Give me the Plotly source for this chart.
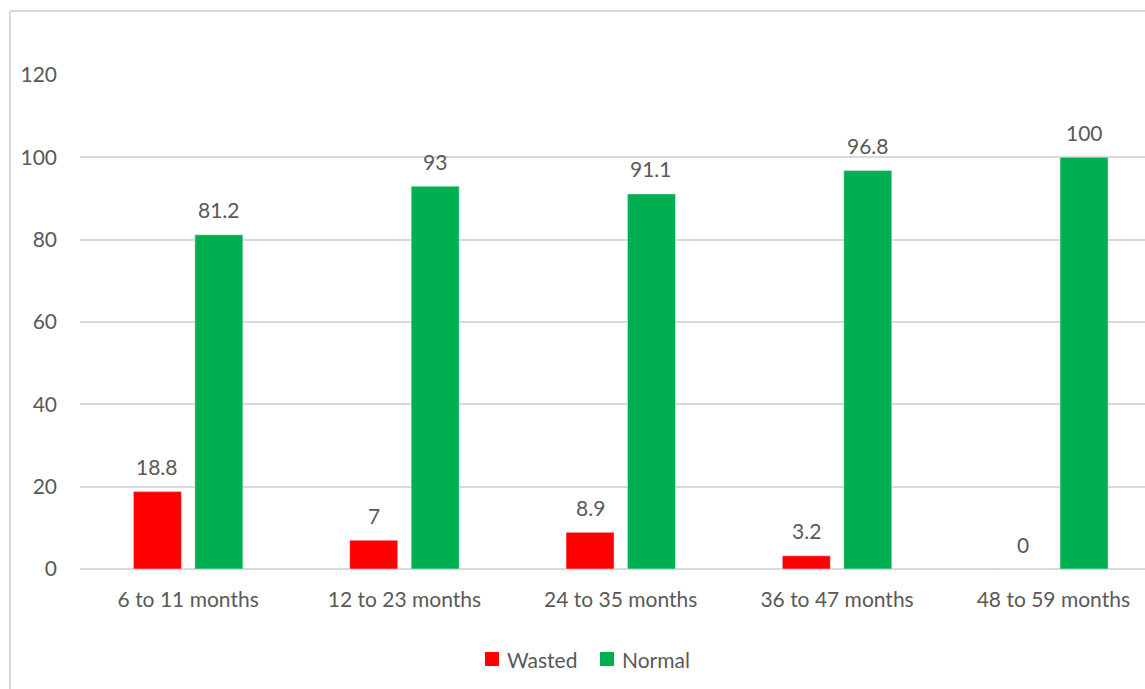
import plotly.graph_objects as go

categories = ["6 to 11 months", "12 to 23 months", "24 to 35 months", "36 to 47 months", "48 to 59 months"]
wasted = [18.8, 7, 8.9, 3.2, 0]
normal = [81.2, 93, 91.1, 96.8, 100]
y_ticks = [0, 20, 40, 60, 80, 100, 120]
series_names = ["Wasted", "Normal"]
series_colors = ["#FF0000", "#00B050"]

W, H = 1145, 689
L, R, T, B = 80, 0, 75, 120
pw = W - L - R
ph = H - T - B
cat_px = 216.3

font_fam = "Lato, Open Sans, sans-serif"
fsize = 21
txt_col = "#595959"

bar_w = 0.222
offsets = [-0.253, 0.031]

fig = go.Figure()
for name, vals, col, off in zip(series_names, [wasted, normal], series_colors, offsets):
    fig.add_trace(go.Bar(x=categories, y=vals, name=name, marker_color=col,
                         width=bar_w, offset=off, showlegend=False))
    center_shift = (off + bar_w / 2) * cat_px
    for c, v in zip(categories, vals):
        fig.add_annotation(x=c, y=v, xref="x", yref="y", text=f"{v:g}", showarrow=False,
                           xshift=center_shift, yshift=25, yanchor="middle",
                           font=dict(size=fsize, color=txt_col, family=font_fam))

def px_x(p):
    return (p - L) / pw

def px_y(p):
    return (H - B - p) / ph

fig.add_shape(type="line", xref="paper", yref="paper", x0=px_x(10), x1=px_x(1160),
              y0=px_y(11), y1=px_y(11), line=dict(color="#D9D9D9", width=2))
fig.add_shape(type="line", xref="paper", yref="paper", x0=px_x(10), x1=px_x(10),
              y0=px_y(11), y1=px_y(700), line=dict(color="#D9D9D9", width=2))

# legend (manual)
leg_items = [(485, 505), (600, 620)]
for (sx, tx), name, col in zip(leg_items, series_names, series_colors):
    fig.add_shape(type="rect", xref="paper", yref="paper",
                  x0=px_x(sx), x1=px_x(sx + 14), y0=px_y(652), y1=px_y(666),
                  fillcolor=col, line=dict(width=0))
    fig.add_annotation(x=px_x(tx), y=px_y(659), xref="paper", yref="paper", text=name,
                       showarrow=False, xanchor="left", yanchor="middle",
                       font=dict(size=fsize, color=txt_col, family=font_fam))

fig.update_layout(
    width=W, height=H,
    margin=dict(l=L, r=R, t=T, b=B, pad=0),
    plot_bgcolor="white", paper_bgcolor="white",
    font=dict(family=font_fam, size=fsize, color=txt_col),
    showlegend=False,
    xaxis=dict(range=[-0.5, -0.5 + pw / cat_px], showgrid=False, showline=False,
               ticks="", tickfont=dict(size=fsize, color=txt_col), ticklabelstandoff=16),
    yaxis=dict(range=[0, 120], tickvals=y_ticks, showgrid=True, gridcolor="#D9D9D9",
               gridwidth=1.5, zeroline=True, zerolinecolor="#D9D9D9", zerolinewidth=1.5,
               showline=False, ticks="", tickfont=dict(size=fsize, color=txt_col),
               ticklabelstandoff=22),
)

fig.write_html("out.html")
